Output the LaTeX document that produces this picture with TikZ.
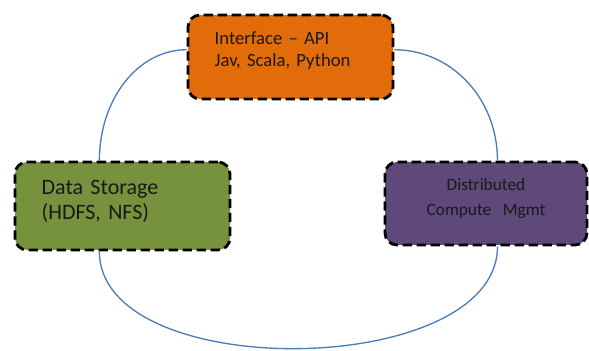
\documentclass[tikz,border=0pt]{standalone}
\definecolor{api_orange}{RGB}{227, 108, 10}
\definecolor{store_green}{RGB}{118, 146, 60}
\definecolor{calc_purple}{RGB}{95, 73, 122}
\definecolor{link_blue}{RGB}{74, 126, 187}
\usepackage{fontspec}
\setmainfont{Carlito}
\usepackage{tikz}
\usetikzlibrary{positioning}

\begin{document}
\begin{tikzpicture}[x=0.75pt, y=0.75pt,
    blok/.style={rectangle, rounded corners=9pt, draw=black, line width=2.1pt,
      dash pattern=on 7pt off 3.5pt, inner xsep=20pt, text=black!90},
    link/.style={draw=link_blue, line width=1pt}]
  \useasboundingbox (0,0) rectangle (589,350);
  \node[blok, fill=api_orange, minimum width=153.75pt, minimum height=63pt,
    text width=113.75pt, text height=10pt, text depth=28pt, align=left,
    font=\fontsize{14}{16.5}\selectfont]
    (iface) at (290.5, 293) {Interface – API\\Jav, Scala, Python};
  \node[blok, fill=store_green, minimum width=161.25pt, minimum height=66pt,
    text width=121.25pt, text height=11pt, text depth=28pt, align=left,
    font=\fontsize{16.5}{18.75}\selectfont]
    (store) at (122.5, 144) {Data Storage\\(HDFS, NFS)};
  \node[blok, fill=calc_purple, minimum width=151.5pt, minimum height=62.25pt,
    text width=111.5pt, text height=9pt, text depth=28pt, align=center,
    font=\fontsize{13}{18.75}\selectfont]
    (calc) at (486, 146.5) {Distributed\\Compute\ \ Mgmt};
  \draw[link] (iface.176) .. controls +(-49,0) and +(0,61) .. (store.117);
  \draw[link] (iface.4) .. controls +(57,0) and +(0,62) .. (calc.75);
  \draw[link] (store.243) .. controls +(0,-133) and +(0,-133) .. (calc.285);
\end{tikzpicture}
\end{document}
